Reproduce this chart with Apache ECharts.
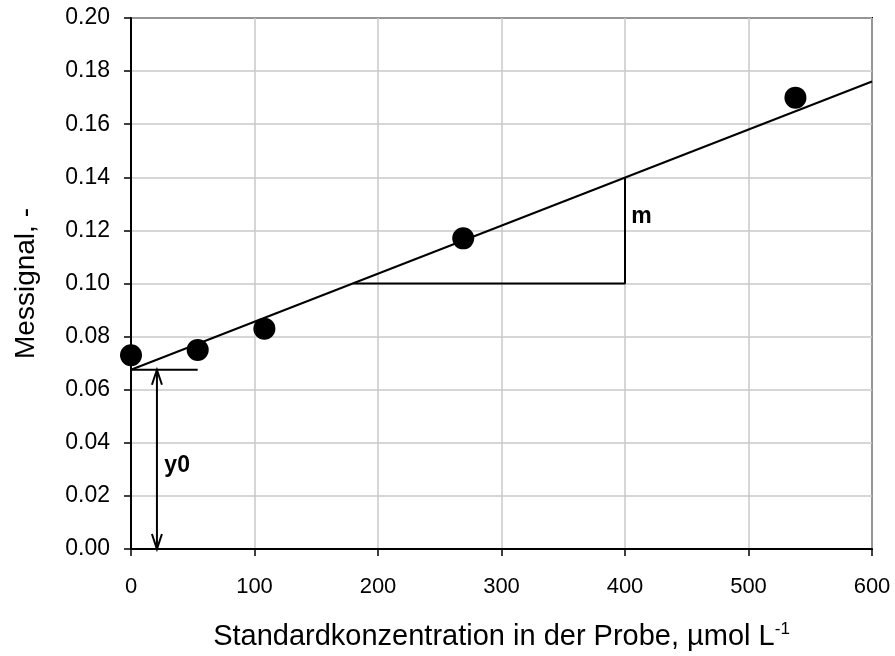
<!DOCTYPE html>
<html>
<head>
<meta charset="utf-8">
<script src="https://cdn.jsdelivr.net/npm/echarts@6/dist/echarts.min.js"></script>
<style>
  html, body { margin: 0; padding: 0; background: #fff; }
  #chart { width: 895px; height: 656px; }
</style>
</head>
<body>
<div id="chart"></div>
<script>
// measured points
const concentrations = [0, 54, 108, 269, 538];
const signals = [0.073, 0.075, 0.083, 0.117, 0.170];

// fitted line  y = y0 + m * x
const fitIntercept = 0.0675;
const fitSlope = 0.000181;
const fitRange = [0, 600];

// slope triangle (x from ... to), y0 marker
const triangleX = [180, 400];
const y0BarX = [0, 54];
const y0ArrowX = 21;

const yTicks = { min: 0, max: 0.2, interval: 0.02 };
const xTicks = { min: 0, max: 600, interval: 100 };

const fit = x => fitIntercept + fitSlope * x;
const fitLine = fitRange.map(x => [x, fit(x)]);
const triangle = [
  [triangleX[0], 0.10],
  [triangleX[1], 0.10],
  [triangleX[1], fit(triangleX[1])]
];
const y0Bar = y0BarX.map(x => [x, fitIntercept]);

const chart = echarts.init(document.getElementById('chart'));
const font = 'Liberation Sans, Arial, sans-serif';

chart.setOption({
  animation: false,
  textStyle: { fontFamily: font },
  grid: { left: 131, right: 23, top: 18, bottom: 102, show: true, borderColor: '#000', borderWidth: 2 },
  xAxis: {
    type: 'value', min: xTicks.min, max: xTicks.max, interval: xTicks.interval,
    name: 'Standardkonzentration in der Probe, µmol L{sup|-1}',
    nameLocation: 'middle', nameGap: 72,
    nameTextStyle: {
      fontSize: 29, color: '#000', fontFamily: font,
      rich: { sup: { fontSize: 17, verticalAlign: 'top', padding: [0, 0, 14, 0], color: '#000', fontFamily: font } }
    },
    axisLine: { lineStyle: { color: '#000', width: 2 } },
    axisTick: { show: true, inside: false, length: 7, lineStyle: { color: '#000', width: 1.5 } },
    axisLabel: { fontSize: 22, color: '#000', margin: 27 },
    splitLine: { show: true, lineStyle: { color: '#c8c8c8', width: 1.5 } }
  },
  yAxis: {
    type: 'value', min: yTicks.min, max: yTicks.max, interval: yTicks.interval,
    name: 'Messignal, -', nameLocation: 'middle', nameGap: 91,
    nameTextStyle: { fontSize: 28, color: '#000' },
    axisLine: { lineStyle: { color: '#000', width: 2 } },
    axisTick: { show: true, inside: false, length: 7, lineStyle: { color: '#000', width: 1.5 } },
    axisLabel: { fontSize: 23, color: '#000', margin: 21, formatter: v => v.toFixed(2) },
    splitLine: { show: true, lineStyle: { color: '#c8c8c8', width: 1.5 } }
  },
  series: [
    {
      type: 'line', data: fitLine, symbol: 'none',
      lineStyle: { color: '#000', width: 2 }, z: 3
    },
    {
      type: 'line', data: triangle, symbol: 'none',
      lineStyle: { color: '#000', width: 2 }, z: 3
    },
    {
      type: 'line', data: y0Bar, symbol: 'none',
      lineStyle: { color: '#000', width: 2 }, z: 3
    },
    {
      // double arrow for y0
      type: 'custom', z: 4, clip: false,
      data: [[y0ArrowX, 0, fitIntercept]],
      renderItem: (params, api) => {
        const lo = api.coord([api.value(0), api.value(1)]);
        const hi = api.coord([api.value(0), api.value(2)]);
        const w = 5, h = 15;
        const style = { stroke: '#000', lineWidth: 2, fill: null };
        return {
          type: 'group',
          children: [
            { type: 'line', shape: { x1: lo[0], y1: lo[1], x2: hi[0], y2: hi[1] }, style },
            { type: 'polyline', shape: { points: [[hi[0] - w, hi[1] + h], hi, [hi[0] + w, hi[1] + h]] }, style },
            { type: 'polyline', shape: { points: [[lo[0] - w, lo[1] - h], lo, [lo[0] + w, lo[1] - h]] }, style }
          ]
        };
      }
    },
    {
      type: 'scatter', data: concentrations.map((x, i) => [x, signals[i]]),
      symbol: 'circle', symbolSize: 22,
      itemStyle: { color: '#000', opacity: 1 }, z: 5
    },
    {
      // annotation labels
      type: 'scatter', symbolSize: 0, z: 6,
      itemStyle: { opacity: 1 },
      data: [
        { value: [27, 0.0313], label: { formatter: 'y0' } },
        { value: [405, 0.1253], label: { formatter: 'm' } }
      ],
      label: {
        show: true, position: 'right', distance: 0,
        fontSize: 23, fontWeight: 'bold', color: '#000', fontFamily: font
      }
    }
  ]
});
</script>
</body>
</html>
